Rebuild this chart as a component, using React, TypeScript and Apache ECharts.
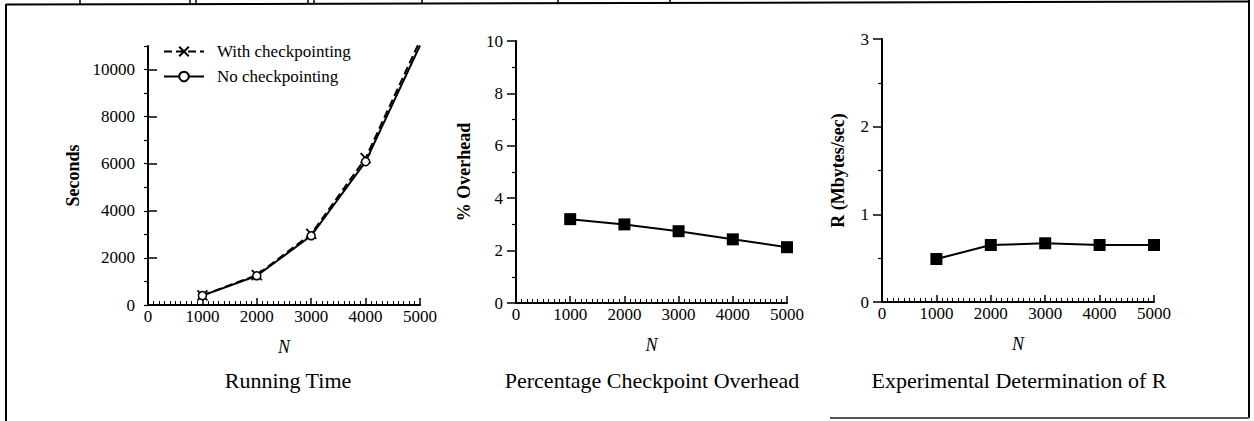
import React, { useEffect, useRef } from 'react';
import * as echarts from 'echarts';

const nValues = [1000, 2000, 3000, 4000, 5000];
const withCheckpointing = [410, 1270, 3020, 6240, 11230];
const noCheckpointing = [400, 1240, 2940, 6090, 11020];
const overheadPct = [3.2, 3.0, 2.74, 2.43, 2.13];
const rateMBs = [0.49, 0.65, 0.67, 0.65, 0.65];
const secondsMajorTicks = [0, 2000, 4000, 6000, 8000, 10000];
const seriesNames = ['With checkpointing', 'No checkpointing'];
const panelTitles = ['Running Time', 'Percentage Checkpoint Overhead', 'Experimental Determination of R'];
const yNames = ['Seconds', '% Overhead', 'R (Mbytes/sec)'];
const xName = 'N';

const FONT = '"Liberation Serif", "Times New Roman", serif';

function zip(xs: number[], ys: number[]) {
  return xs.map((x, i) => [x, ys[i]]);
}

function makeX(gridIndex: number) {
  return {
    type: 'value',
    gridIndex,
    min: 0,
    max: 5000,
    interval: 1000,
    axisLine: { show: true, onZero: false, lineStyle: { color: '#000', width: 2 } },
    axisTick: { show: true, inside: true, length: 7, lineStyle: { color: '#000', width: 1.5 } },
    minorTick: { show: true, splitNumber: 10, length: 4, lineStyle: { color: '#000', width: 1 } },
    axisLabel: { margin: 3, color: '#000', fontFamily: FONT, fontSize: 17, formatter: (v: number) => String(v) },
    splitLine: { show: false },
    name: xName,
    nameLocation: 'middle',
    nameGap: 33,
    nameTextStyle: { fontStyle: 'italic', fontSize: 18, color: '#000', fontFamily: FONT },
  };
}

function makeY(gridIndex: number, max: number, interval: number, name: string, nameGap: number) {
  return {
    type: 'value',
    gridIndex,
    min: 0,
    max,
    interval,
    axisLine: { show: true, onZero: false, lineStyle: { color: '#000', width: 2 } },
    axisTick: { show: true, inside: false, length: 9, lineStyle: { color: '#000', width: 1.5 } },
    minorTick: { show: true, splitNumber: 2, length: 4, lineStyle: { color: '#000', width: 1.2 } },
    axisLabel: { margin: 13, color: '#000', fontFamily: FONT, fontSize: 17, formatter: (v: number) => String(v) },
    splitLine: { show: false },
    name,
    nameLocation: 'middle',
    nameGap,
    nameTextStyle: { fontWeight: 'bold', fontSize: 18, color: '#000', fontFamily: FONT },
  };
}

export default function App() {
  const ref = useRef<HTMLDivElement>(null);

  useEffect(() => {
    if (!ref.current) return;
    const chart = echarts.init(ref.current, null, { renderer: 'svg' });

    const line = (x1: number, y1: number, x2: number, y2: number, w = 2, c = '#000') => ({
      type: 'line',
      shape: { x1, y1, x2, y2 },
      style: { stroke: c, lineWidth: w },
      silent: true,
    });

    const titleCenters = [288, 652, 1019];

    const option: any = {
      animation: false,
      backgroundColor: '#fff',
      grid: [
        { left: 148, top: 46, width: 272, height: 259 },
        { left: 516, top: 41, width: 271, height: 262 },
        { left: 882, top: 39, width: 272, height: 263 },
      ],
      xAxis: [makeX(0), makeX(1), makeX(2)],
      yAxis: [
        {
          ...makeY(0, 11000, 1000, yNames[0], 66),
          axisTick: { show: true, inside: false, length: 4, lineStyle: { color: '#000', width: 1.2 } },
          minorTick: { show: false },
          axisLabel: {
            margin: 13,
            color: '#000',
            fontFamily: FONT,
            fontSize: 17,
            formatter: (v: number) => (v % 2000 === 0 ? String(v) : ''),
          },
        },
        {
          type: 'value',
          gridIndex: 0,
          min: 0,
          max: 11000,
          interval: 1000,
          axisLine: { show: false },
          axisLabel: { show: false },
          splitLine: { show: false },
          axisTick: {
            show: true,
            inside: false,
            length: 9,
            customValues: secondsMajorTicks,
            lineStyle: { color: '#000', width: 1.5 },
          },
        },
        makeY(1, 10, 2, yNames[1], 43),
        makeY(2, 3, 1, yNames[2], 35),
      ],
      legend: {
        data: seriesNames,
        orient: 'vertical',
        left: 158,
        top: 38,
        itemWidth: 40,
        itemHeight: 12,
        itemGap: 8,
        textStyle: { fontFamily: FONT, fontSize: 17, color: '#000', padding: [0, 0, 0, 8] },
      },
      graphic: [
        ...panelTitles.map((t, i) => ({
          type: 'text',
          x: titleCenters[i],
          y: 380,
          silent: true,
          style: {
            text: t,
            fontFamily: FONT,
            fontSize: 22,
            fill: '#000',
            align: 'center',
            verticalAlign: 'middle',
          },
        })),
        line(6, 4.5, 1249, 1.5),
        line(6, 4, 6, 421),
        line(1249, 0, 1249, 418),
        line(830, 418, 1249, 418, 2, '#555'),
        ...[80, 190, 196, 308, 314, 422, 558, 670].map((x) => line(x, 0, x, 4, 1.5)),
      ],
      series: [
        {
          name: seriesNames[0],
          type: 'line',
          xAxisIndex: 0,
          yAxisIndex: 0,
          data: zip(nValues, withCheckpointing),
          symbol: 'path://M0,0L10,10M10,0L0,10',
          symbolSize: 10,
          lineStyle: { color: '#000', width: 2, type: 'dashed' },
          itemStyle: { color: '#000', borderColor: '#000', borderWidth: 1.8 },
          z: 3,
        },
        {
          name: seriesNames[1],
          type: 'line',
          xAxisIndex: 0,
          yAxisIndex: 0,
          data: zip(nValues, noCheckpointing),
          symbol: 'circle',
          symbolSize: 8,
          lineStyle: { color: '#000', width: 2 },
          itemStyle: { color: '#fff', borderColor: '#000', borderWidth: 1.5 },
          z: 4,
        },
        {
          name: 'overhead',
          type: 'line',
          xAxisIndex: 1,
          yAxisIndex: 2,
          data: zip(nValues, overheadPct),
          symbol: 'rect',
          symbolSize: 12,
          lineStyle: { color: '#000', width: 2 },
          itemStyle: { color: '#000' },
        },
        {
          name: 'rate',
          type: 'line',
          xAxisIndex: 2,
          yAxisIndex: 3,
          data: zip(nValues, rateMBs),
          symbol: 'rect',
          symbolSize: 12,
          lineStyle: { color: '#000', width: 2 },
          itemStyle: { color: '#000' },
        },
      ],
    };

    chart.setOption(option);
    return () => chart.dispose();
  }, []);

  return (
    <div
      ref={ref}
      style={{ position: 'fixed', left: 0, top: 0, width: 1254, height: 421, background: '#fff' }}
    />
  );
}
